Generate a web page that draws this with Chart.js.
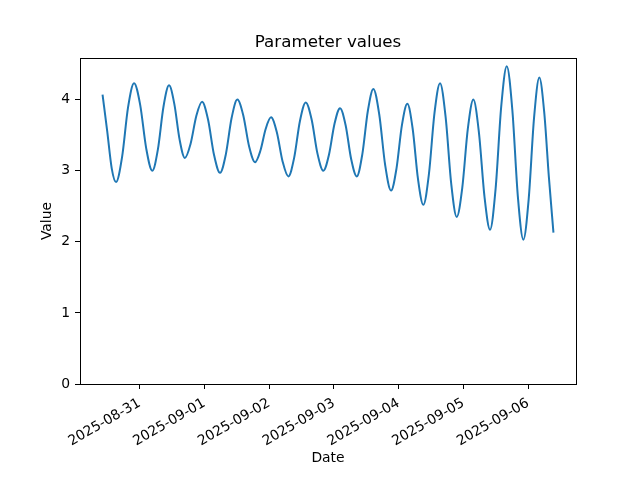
<!DOCTYPE html>
<html>
<head>
<meta charset="utf-8">
<script src="https://cdn.jsdelivr.net/npm/chart.js"></script>
<style>
  body { margin: 0; background: #fff; }
  canvas { display: block; }
</style>
</head>
<body>
<canvas id="chart" width="640" height="480"></canvas>
<script>
// readings taken off the plot (UTC)
const times = [
    '2025-08-30 10:17', '2025-08-30 12:00', '2025-08-30 13:42', '2025-08-30 15:17', '2025-08-30 17:31',
    '2025-08-30 19:44', '2025-08-30 21:58', '2025-08-31 00:13', '2025-08-31 02:29', '2025-08-31 04:44',
    '2025-08-31 06:48', '2025-08-31 08:52', '2025-08-31 10:56', '2025-08-31 12:53', '2025-08-31 14:50',
    '2025-08-31 16:47', '2025-08-31 18:55', '2025-08-31 21:02', '2025-08-31 23:10', '2025-09-01 01:23',
    '2025-09-01 03:37', '2025-09-01 05:50', '2025-09-01 07:59', '2025-09-01 10:07', '2025-09-01 12:15',
    '2025-09-01 14:26', '2025-09-01 16:37', '2025-09-01 18:49', '2025-09-01 20:47', '2025-09-01 22:46',
    '2025-09-02 00:44', '2025-09-02 02:53', '2025-09-02 05:01', '2025-09-02 07:09', '2025-09-02 09:18',
    '2025-09-02 11:27', '2025-09-02 13:36', '2025-09-02 15:47', '2025-09-02 17:57', '2025-09-02 20:08',
    '2025-09-02 22:11', '2025-09-03 00:16', '2025-09-03 02:19', '2025-09-03 04:23', '2025-09-03 06:27',
    '2025-09-03 08:31', '2025-09-03 10:34', '2025-09-03 12:37', '2025-09-03 14:40', '2025-09-03 16:51',
    '2025-09-03 19:02', '2025-09-03 21:13', '2025-09-03 23:14', '2025-09-04 01:15', '2025-09-04 03:16',
    '2025-09-04 05:14', '2025-09-04 07:13', '2025-09-04 09:11', '2025-09-04 11:15', '2025-09-04 13:19',
    '2025-09-04 15:23', '2025-09-04 17:26', '2025-09-04 19:31', '2025-09-04 21:34', '2025-09-04 23:37',
    '2025-09-05 01:41', '2025-09-05 03:44', '2025-09-05 05:47', '2025-09-05 07:52', '2025-09-05 09:55',
    '2025-09-05 11:59', '2025-09-05 14:03', '2025-09-05 16:07', '2025-09-05 18:10', '2025-09-05 20:13',
    '2025-09-05 22:16', '2025-09-06 00:14', '2025-09-06 02:13', '2025-09-06 04:11', '2025-09-06 06:00',
    '2025-09-06 07:42', '2025-09-06 09:25'
];
const values = [
    4.07, 3.56, 3.03, 2.84, 3.19,
    3.89, 4.23, 3.93, 3.31, 3.00,
    3.30, 3.90, 4.20, 3.94, 3.44,
    3.18, 3.38, 3.77, 3.97, 3.72,
    3.22, 2.97, 3.23, 3.74, 4.00,
    3.78, 3.34, 3.12, 3.28, 3.59,
    3.75, 3.54, 3.13, 2.92, 3.18,
    3.70, 3.96, 3.72, 3.24, 3.00,
    3.22, 3.66, 3.88, 3.64, 3.16,
    2.92, 3.23, 3.84, 4.15, 3.79,
    3.08, 2.72, 3.03, 3.64, 3.94,
    3.59, 2.88, 2.52, 2.95, 3.81,
    4.23, 3.76, 2.82, 2.35, 2.76,
    3.59, 4.00, 3.54, 2.63, 2.17,
    2.75, 3.90, 4.47, 3.86, 2.64,
    2.03, 2.60, 3.74, 4.31, 3.82,
    2.92, 2.13
];
const dayTicks = ['2025-08-31', '2025-09-01', '2025-09-02', '2025-09-03', '2025-09-04', '2025-09-05', '2025-09-06'];
const valueTicks = [0, 1, 2, 3, 4];
const titolo = 'Parameter values';

function toMs(s) {
    return Date.parse(s.replace(' ', 'T') + ':00Z');
}

const punti = times.map((t, i) => ({ x: toMs(t), y: values[i] }));
const tStart = punti[0].x;
const tEnd = punti[punti.length - 1].x;
const margine = (tEnd - tStart) * 0.05;

const FONT = 'DejaVu Sans';

// top/right spines and a title centred on the axes, like matplotlib
const cornice = {
    id: 'cornice',
    afterDraw(chart) {
        const a = chart.chartArea;
        const ctx = chart.ctx;
        ctx.save();
        ctx.strokeStyle = '#000';
        ctx.lineWidth = 1;
        ctx.strokeRect(Math.round(a.left) + 0.5, Math.round(a.top) + 0.5,
            Math.round(a.right - a.left), Math.round(a.bottom - a.top));
        ctx.fillStyle = '#000';
        ctx.font = '16.7px "' + FONT + '"';
        ctx.textAlign = 'center';
        ctx.textBaseline = 'middle';
        ctx.fillText(titolo, (a.left + a.right) / 2, 43);
        ctx.restore();
    }
};

new Chart(document.getElementById('chart').getContext('2d'), {
    type: 'line',
    data: {
        datasets: [{
            label: 'Value',
            data: punti,
            borderColor: '#1f77b4',
            borderWidth: 2,
            pointRadius: 0,
            fill: false,
            cubicInterpolationMode: 'monotone'
        }]
    },
    options: {
        responsive: false,
        animation: false,
        layout: { padding: { top: 58, right: 64, bottom: 0, left: 0 } },
        plugins: {
            legend: { display: false },
            tooltip: { enabled: false },
            title: { display: false }
        },
        scales: {
            x: {
                type: 'linear',
                min: tStart - margine,
                max: tEnd + margine,
                afterBuildTicks: scale => {
                    scale.ticks = dayTicks.map(d => ({ value: Date.parse(d + 'T00:00:00Z') }));
                },
                afterFit: scale => { scale.height = 96; },
                ticks: {
                    autoSkip: false,
                    minRotation: 30,
                    maxRotation: 30,
                    padding: 6,
                    color: '#000',
                    font: { family: FONT, size: 13.9 },
                    callback: v => new Date(v).toISOString().slice(0, 10)
                },
                grid: { drawOnChartArea: false, tickLength: 5, tickColor: '#000', tickWidth: 1 },
                border: { color: '#000', width: 1 },
                title: {
                    display: true,
                    text: 'Date',
                    color: '#000',
                    font: { family: FONT, size: 13.9 },
                    padding: { top: 0, bottom: 13 }
                }
            },
            y: {
                min: 0,
                max: 4.585,
                afterBuildTicks: scale => {
                    scale.ticks = valueTicks.map(v => ({ value: v }));
                },
                afterFit: scale => { scale.width = 80; },
                ticks: {
                    padding: 5,
                    color: '#000',
                    font: { family: FONT, size: 13.9 }
                },
                grid: { drawOnChartArea: false, tickLength: 5, tickColor: '#000', tickWidth: 1 },
                border: { color: '#000', width: 1 },
                title: {
                    display: true,
                    text: 'Value',
                    color: '#000',
                    font: { family: FONT, size: 13.9 },
                    padding: { top: 39, bottom: 0 }
                }
            }
        }
    },
    plugins: [cornice]
});
</script>
</body>
</html>
